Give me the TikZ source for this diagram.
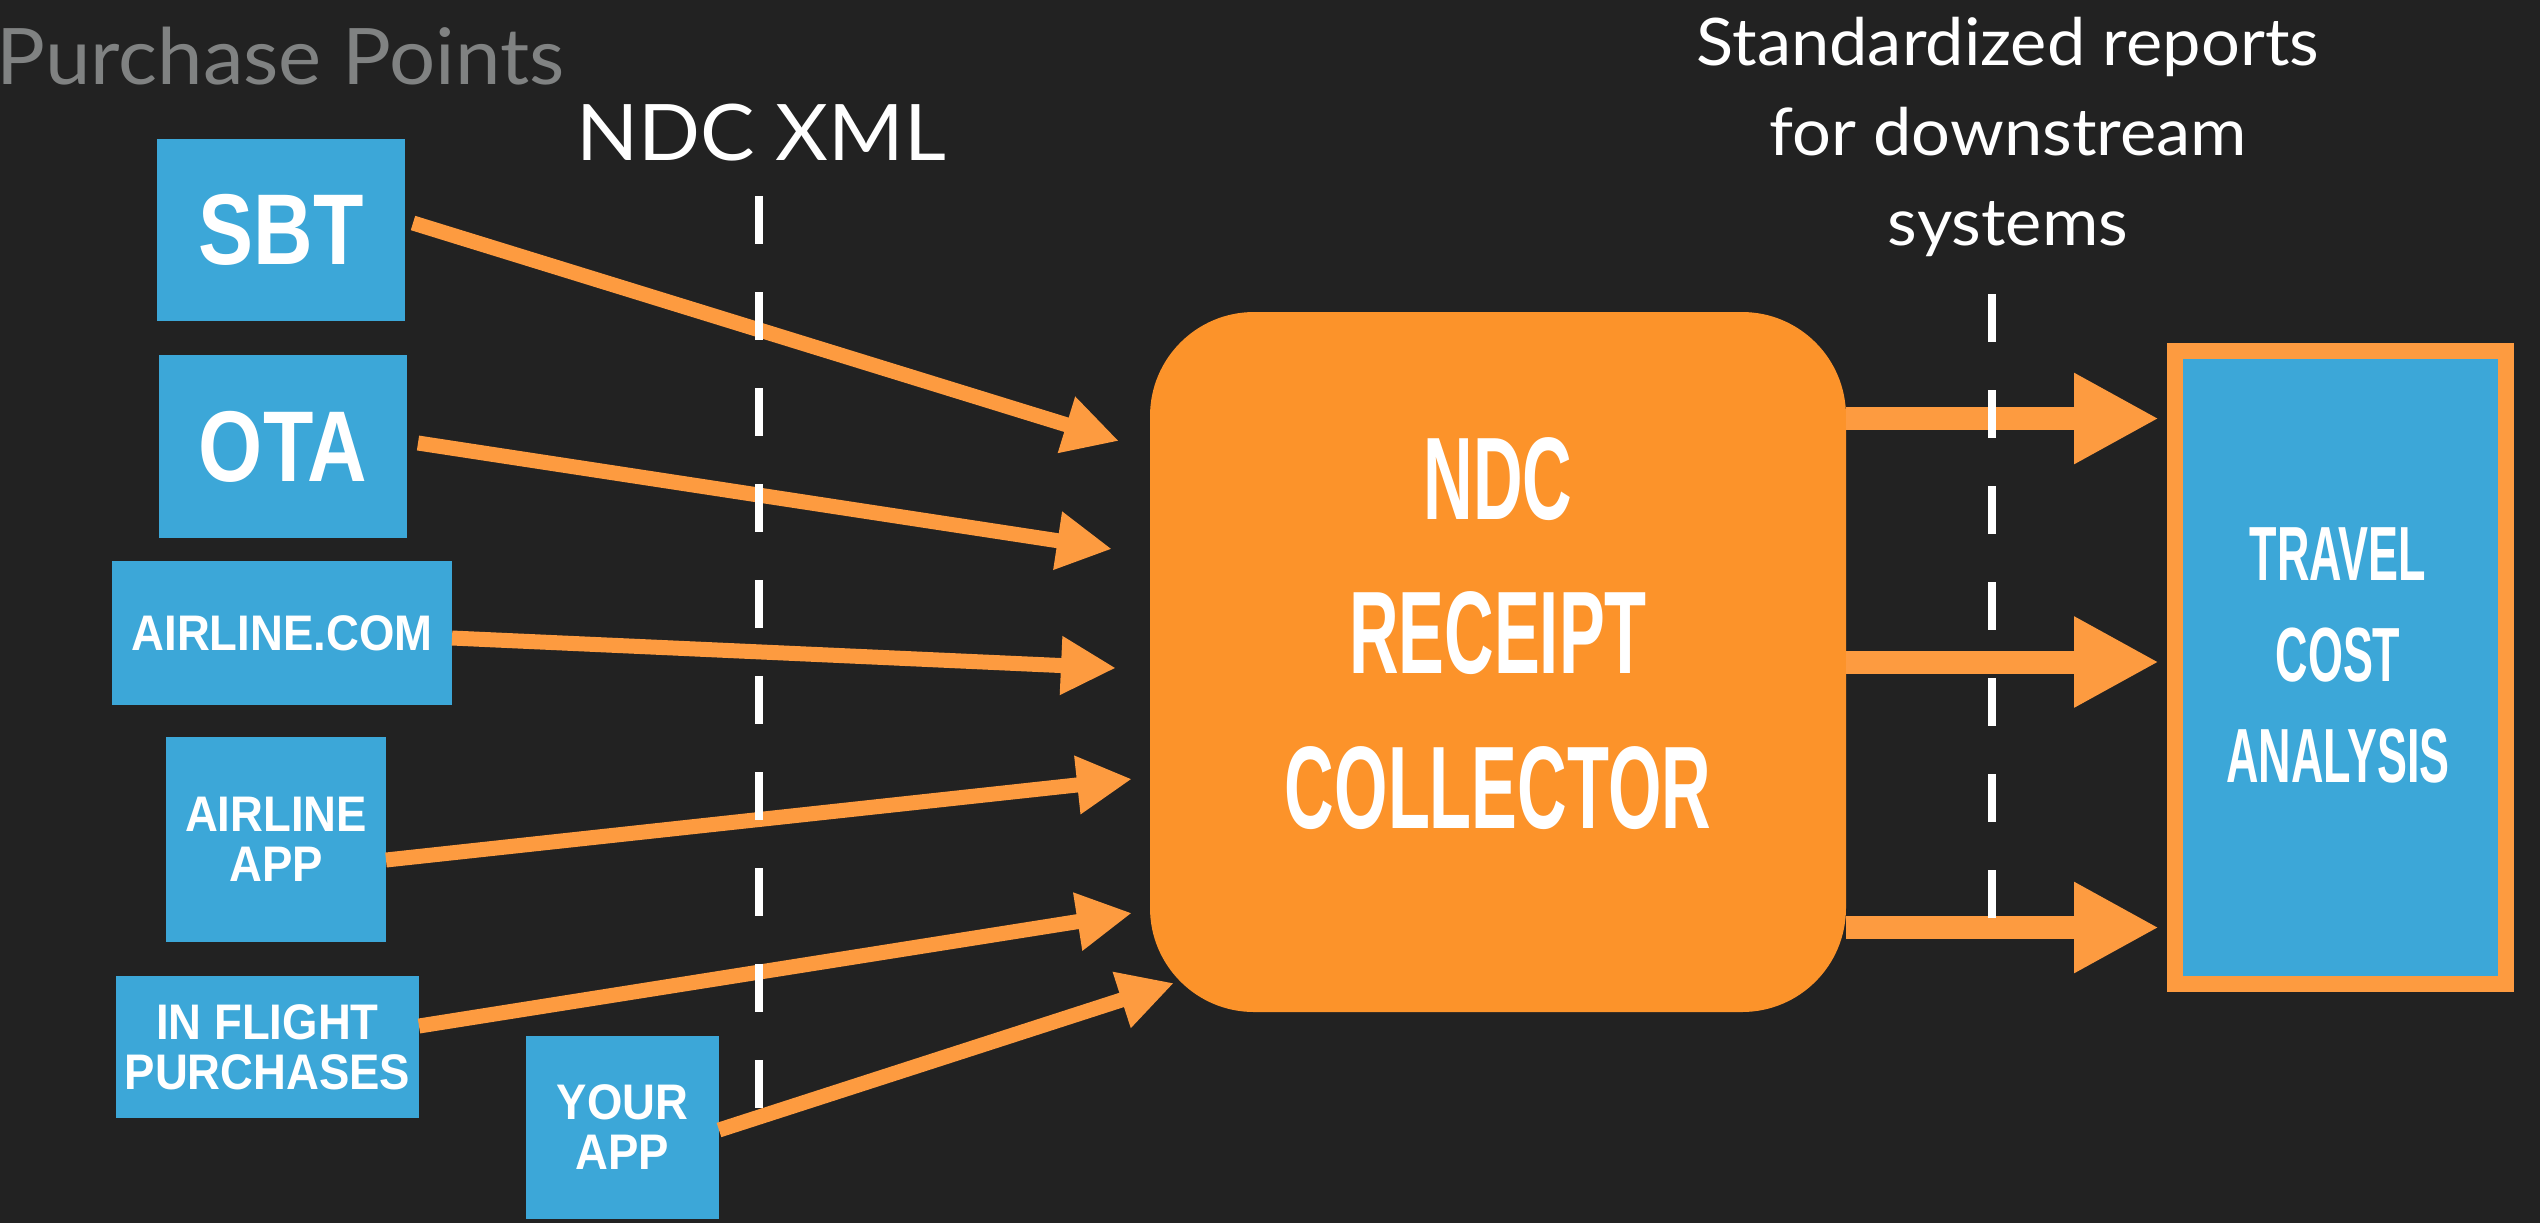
\documentclass[tikz,border=0pt]{standalone}
\usepackage{fontspec}
\setmainfont[FakeStretch=1.045]{Lato}
\newfontfamily\dinA[FakeStretch=0.91]{Liberation Sans}
\newfontfamily\dinB[FakeStretch=0.82]{Liberation Sans}
\newfontfamily\dinC[FakeStretch=0.585]{Liberation Sans}
\usetikzlibrary{arrows.meta,calc}
\definecolor{bgc}{RGB}{34,34,34}
\definecolor{pblue}{RGB}{60,167,216}
\definecolor{boxorange}{RGB}{252,147,42}
\definecolor{arrowc}{RGB}{253,155,64}
\definecolor{grayc}{RGB}{128,130,130}
\tikzset{
  src/.style={fill=pblue, text=white, inner sep=0pt, outer sep=0pt, align=center,
    font=\dinA\bfseries\fontsize{25}{25}\selectfont},
  srcbig/.style={src, font=\dinB\bfseries\fontsize{50.3}{50}\selectfont},
  inarrow/.style={draw=arrowc, line width=7.5pt, -{Triangle[length=27.5pt,width=27.5pt]}},
  outarrow/.style={draw=arrowc, line width=11.5pt, -{Triangle[length=42.5pt,width=42.5pt]}},
  divider/.style={draw=white, line width=4pt, dash pattern=on 24pt off 24pt},
  condtext/.style={text=white, align=center, inner sep=0pt}
}
\begin{document}
\begin{tikzpicture}[x=0.5pt,y=-0.5pt]
\useasboundingbox (0,0) rectangle (2540,1223);
\fill[bgc] (0,0) rectangle (2540,1223);

% titles
\node[anchor=base west, inner sep=0pt, text=grayc, font=\fontsize{39}{39}\selectfont] (title) at (-4,84) {Purchase Points};
\node[anchor=base, inner sep=0pt, text=white, font=\fontsize{39}{39}\selectfont] (xmllabel) at (761,160) {NDC XML};
\node[anchor=base, inner sep=0pt, text=white, align=center, font=\fontsize{32.8}{45}\selectfont] (stdlabel) at (2008,245) {Standardized reports\\for downstream\\systems};

% purchase points
\node[srcbig, minimum width=124pt, minimum height=91pt] (sbt) at (281,230) {SBT};
\node[srcbig, minimum width=124pt, minimum height=91.5pt] (ota) at (283,446.5) {OTA};
\node[src, minimum width=170pt, minimum height=72pt] (acom) at (282,633) {AIRLINE.COM};
\node[src, minimum width=110pt, minimum height=102.5pt] (aapp) at (276,839.5) {AIRLINE\\APP};
\node[src, minimum width=151.5pt, minimum height=71pt] (ifp) at (267.5,1047) {IN FLIGHT\\PURCHASES};
\node[src, minimum width=96.5pt, minimum height=91.5pt] (yapp) at (622.5,1127.5) {YOUR\\APP};

% collector
\node[fill=boxorange, rounded corners=52pt, minimum width=348pt, minimum height=350pt, inner sep=0pt, outer sep=0pt] (ndc) at (1498,662) {};
\node[condtext, font=\dinC\bfseries\fontsize{58.7}{77.25}\selectfont] (ndctext) at (1498,633.5) {NDC\\RECEIPT\\COLLECTOR};

% travel cost analysis
\node[fill=pblue, draw=arrowc, line width=8pt, minimum width=165.5pt, minimum height=316.75pt, inner sep=0pt, outer sep=0pt] (travel) at (2340.5,667.5) {};
\node[condtext, font=\dinC\bfseries\fontsize{38.4}{50.5}\selectfont] (traveltext) at (2338,655) {TRAVEL\\COST\\ANALYSIS};

% incoming arrows
\draw[inarrow] ([shift={(8,-7)}]sbt.east) -- ([shift={(-31,-221)}]ndc.west);
\draw[inarrow] ([shift={(11,-3.5)}]ota.east) -- ([shift={(-38,-113)}]ndc.west);
\draw[inarrow] ([shift={(0,5)}]acom.east) -- ([shift={(-34,6)}]ndc.west);
\draw[inarrow] ([shift={(0,20.5)}]aapp.east) -- ([shift={(-18,117)}]ndc.west);
\draw[inarrow] ([shift={(0,-21)}]ifp.east) -- ([shift={(-18,251)}]ndc.west);
\draw[inarrow] ([shift={(0,2.5)}]yapp.east) -- ([shift={(24,321)}]ndc.west);

% outgoing arrows
\draw[outarrow] ([shift={(0,-243.5)}]ndc.east) -- ([shift={(-16,-249)}]travel.west);
\draw[outarrow] ([shift={(0,0)}]ndc.east) -- ([shift={(-16,-5.5)}]travel.west);
\draw[outarrow] ([shift={(0,265.5)}]ndc.east) -- ([shift={(-16,260)}]travel.west);

% dividers
\coordinate (d1top) at (759,196);
\coordinate (d1bot) at (759,1108);
\coordinate (d2top) at (1992,294);
\coordinate (d2bot) at (1992,918);
\draw[divider] (d1top) -- (d1bot);
\draw[divider] (d2top) -- (d2bot);
\end{tikzpicture}
\end{document}
